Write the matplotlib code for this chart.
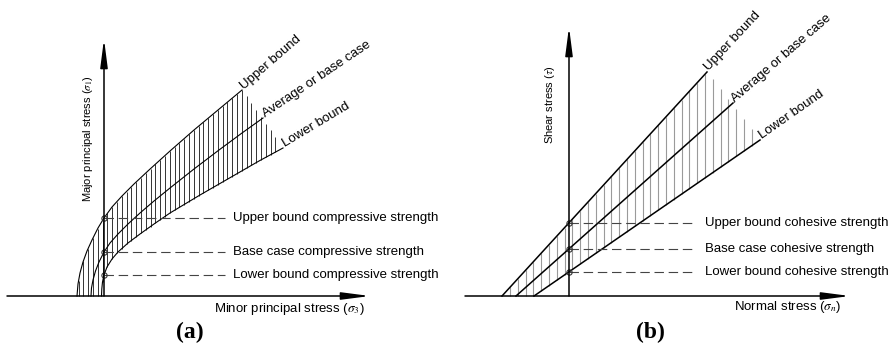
import numpy as np
import matplotlib
matplotlib.use("Agg")
import matplotlib.pyplot as plt

plt.rcParams["font.family"] = ["Liberation Sans", "DejaVu Sans"]
plt.rcParams["mathtext.fontset"] = "stix"
plt.rcParams["lines.scale_dashes"] = False

# (a) strength envelopes, minor vs major principal stress (arbitrary units)
s3_upper = [-27, -26, -24, -21, -17, -12, -6, 0, 8, 18, 30, 45, 66, 90, 114, 138]
s1_upper = [0, 12, 23, 34, 45, 56, 68, 78, 89, 100, 112, 126, 145, 166, 186, 206]
s3_base = [-13, -12.5, -11, -8.5, -5, 0, 6, 14, 24, 36, 50, 66, 90, 115, 138, 159]
s1_base = [0, 8, 16, 25, 34, 44, 53, 62, 72, 83, 95, 108, 127, 146, 163, 178]
s3_lower = [-2.5, -2.2, -1.5, 0, 3, 8, 14, 24, 36, 50, 66, 96, 129, 155, 179]
s1_lower = [0, 7, 14, 21, 29, 37, 44, 53, 62, 72, 83, 101, 120, 135, 148]

# (b) linear envelopes, normal vs shear stress
sn_upper = [-67, 138]
tau_upper = [0, 224]
sn_base = [-53, 164]
tau_base = [0, 193]
sn_lower = [-35, 191]
tau_lower = [0, 156]

curve_labels = ["Upper bound", "Average or base case", "Lower bound"]
strength_a = ["Upper bound compressive strength", "Base case compressive strength",
              "Lower bound compressive strength"]
strength_b = ["Upper bound cohesive strength", "Base case cohesive strength",
              "Lower bound cohesive strength"]

FS = 9.5
fig = plt.figure(figsize=(8.94, 3.49), dpi=100)
axa = fig.add_axes([0, 0, 0.5, 1])
axb = fig.add_axes([0.5, 0, 0.5, 1])
# one data unit = one pixel, origin at the axis crossing
axa.set_xlim(-104, 343)
axa.set_ylim(-53, 296)
axb.set_xlim(-122, 325)
axb.set_ylim(-53, 296)
for ax in (axa, axb):
    ax.axis("off")


def arrow(ax, start, end):
    ax.annotate("", xy=end, xytext=start,
                arrowprops=dict(arrowstyle="-|>,head_length=1.7,head_width=0.22",
                                lw=1.1, color="black", mutation_scale=10,
                                shrinkA=0, shrinkB=0))


def hatch(ax, xs, top_x, top_y, bot_x, bot_y, **kw):
    ax.vlines(xs, np.interp(xs, bot_x, bot_y), np.interp(xs, top_x, top_y), **kw)


# ---- panel (a)
hatch(axa, np.arange(-25.5, 174, 4.8),
      s3_upper + [s3_lower[-1]], s1_upper + [s1_lower[-1]],
      [s3_upper[0]] + s3_lower, [0] + s1_lower,
      colors="#333333", lw=0.7)
curves_a = [(s3_upper, s1_upper), (s3_base, s1_base), (s3_lower, s1_lower)]
angles_a = [41, 34, 31]
for (x, y), lab, ang in zip(curves_a, curve_labels, angles_a):
    axa.plot(x, y, color="black", lw=0.8)
    axa.annotate(lab, xy=(x[-1], y[-1]), xytext=(1.5, 0.5), textcoords="offset points",
                 rotation=ang, rotation_mode="anchor", ha="left", va="baseline",
                 fontsize=FS)
arrow(axa, (-97, 0), (266, 0))
arrow(axa, (0, 0), (0, 257))
for (x, y), lab in zip(curves_a, strength_a):
    ucs = np.interp(0, x, y)
    axa.plot([0, 121], [ucs, ucs], color="#444444", lw=0.8, dashes=(6.8, 3.4))
    axa.plot(0, ucs, "o", ms=3.8, mfc="none", mec="#333333", mew=0.8)
    axa.text(129, ucs, lab, fontsize=FS, va="center", ha="left")
axa.text(-16, 157, r"Major principal stress ($\sigma_1$)", rotation=90,
         fontsize=8, ha="center", va="center")
axa.text(110, -13, r"Minor principal stress ($\sigma_3$)", fontsize=FS,
         ha="left", va="center")
axa.text(86, -36, "(a)", fontsize=17, fontweight="bold",
         family="Liberation Serif", ha="center", va="center")

# ---- panel (b)
hatch(axb, np.arange(-59, 186, 7.8),
      [sn_upper[0], sn_upper[1], sn_lower[1]], [0, tau_upper[1], tau_lower[1]],
      [sn_upper[0]] + sn_lower, [0] + tau_lower,
      colors="#9a9a9a", lw=0.8)
lines_b = [(sn_upper, tau_upper), (sn_base, tau_base), (sn_lower, tau_lower)]
angles_b = [47, 41, 35]
for (x, y), lab, ang in zip(lines_b, curve_labels, angles_b):
    axb.plot(x, y, color="black", lw=1.1)
    axb.annotate(lab, xy=(x[-1], y[-1]), xytext=(1.5, 0.5), textcoords="offset points",
                 rotation=ang, rotation_mode="anchor", ha="left", va="baseline",
                 fontsize=FS)
arrow(axb, (-104, 0), (281, 0))
arrow(axb, (0, 0), (0, 269))
for (x, y), lab in zip(lines_b, strength_b):
    c = np.interp(0, x, y)
    axb.plot([0, 126], [c, c], color="#444444", lw=0.8, dashes=(6.8, 3.4))
    axb.plot(0, c, "o", ms=3.8, mfc="none", mec="#333333", mew=0.8)
    axb.text(136, c, lab, fontsize=FS, va="center", ha="left")
axb.text(-19, 191, r"Shear stress ($\tau$)", rotation=90,
         fontsize=8, ha="center", va="center")
axb.text(165, -11, r"Normal stress ($\sigma_n$)", fontsize=FS,
         ha="left", va="center")
axb.text(81, -36, "(b)", fontsize=17, fontweight="bold",
         family="Liberation Serif", ha="center", va="center")

fig.savefig("out.png", dpi=100)
